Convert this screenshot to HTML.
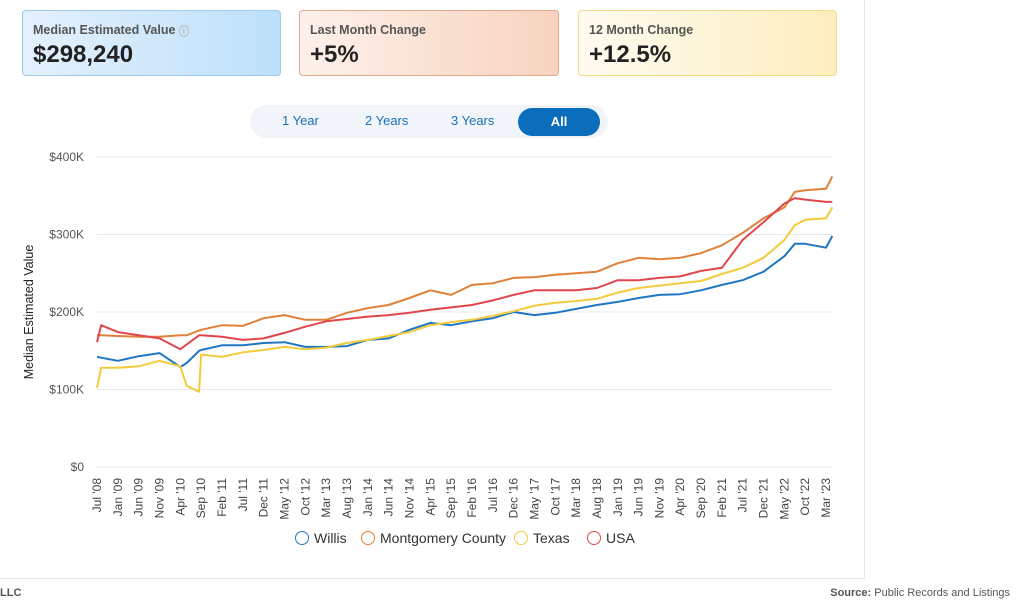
<!DOCTYPE html>
<html><head><meta charset="utf-8"><style>
body{margin:0;width:1024px;height:607px;background:#fff;font-family:"Liberation Sans",sans-serif;position:relative;overflow:hidden}
.card{position:absolute;top:10px;height:66px;border-radius:4px;box-sizing:border-box}
.card .t{position:absolute;left:10px;top:12px;font-size:12.5px;color:#555;font-weight:bold}
.card .v{position:absolute;left:10px;top:30px;font-size:24px;font-weight:bold;color:#222}
.pill{position:absolute;left:250px;top:105px;width:358px;height:33px;border-radius:17px;background:#f1f5f9}
.btn{position:absolute;top:8px;font-size:13px;color:#1a6fb8;cursor:pointer}
</style></head><body>
<div class="card" style="left:22px;width:259px;background:linear-gradient(90deg,#e4f1fd,#bde0fb);border:1px solid #9ccaf0">
<div class="t">Median Estimated Value <span style="font-weight:normal;color:#aaa;border:1px solid #bbb;border-radius:50%;font-size:9px;padding:0 3px">i</span></div>
<div class="v">$298,240</div></div>
<div class="card" style="left:299px;width:260px;background:linear-gradient(90deg,#fdf1eb,#f8d3bf);border:1px solid #e6a987">
<div class="t">Last Month Change</div>
<div class="v">+5%</div></div>
<div class="card" style="left:578px;width:259px;background:linear-gradient(90deg,#fffbf0,#fdeebf);border:1px solid #f2dc8a">
<div class="t">12 Month Change</div>
<div class="v">+12.5%</div></div>
<div class="pill">
<div class="btn" style="left:32px">1 Year</div>
<div class="btn" style="left:115px">2 Years</div>
<div class="btn" style="left:201px">3 Years</div>
<div style="position:absolute;left:268px;top:3px;width:82px;height:28px;border-radius:14px;background:#0a6ebd;color:#fff;font-size:13px;font-weight:bold;text-align:center;line-height:28px">All</div>
</div>
<div style="position:absolute;left:864px;top:0;width:1px;height:579px;background:#e6e6e6"></div>
<div style="position:absolute;left:0;top:578px;width:865px;height:1px;background:#e6e6e6"></div>
<div style="position:absolute;left:0;top:587px;font-size:11px;color:#555;font-weight:bold">LLC</div>
<div style="position:absolute;right:14px;top:587px;font-size:11px;color:#555"><b>Source:</b> Public Records and Listings</div>
<svg id="c" width="1024" height="607" style="position:absolute;left:0;top:0"></svg>
<script>
const xLabels=["Jul '08","Jan '09","Jun '09","Nov '09","Apr '10","Sep '10","Feb '11","Jul '11","Dec '11","May '12","Oct '12","Mar '13","Aug '13","Jan '14","Jun '14","Nov '14","Apr '15","Sep '15","Feb '16","Jul '16","Dec '16","May '17","Oct '17","Mar '18","Aug '18","Jan '19","Jun '19","Nov '19","Apr '20","Sep '20","Feb '21","Jul '21","Dec '21","May '22","Oct '22","Mar '23"];
const yTicks=[0,100,200,300,400];
const pos=[0,0.2,1,2,3,4,4.3,4.9,5,6,7,8,9,10,11,12,13,14,15,16,17,18,19,20,21,22,23,24,25,26,27,28,29,30,31,32,33,33.5,34,35,35.3];
const willis=[142,141,137,143,147,129,134,150,151,157,157,160,161,155,155,156,164,166,177,186,183,188,192,200,196,199,204,209,213,218,222,223,228,235,241,252,272,288,288,283,298];
const montgomery=[170,170,169,168,168,170,170,176,177,183,182,192,196,190,190,199,205,209,218,228,222,235,237,244,245,248,250,252,263,270,268,270,276,286,302,321,335,355,357,359,375];
const texas=[102,128,128,130,137,130,105,97,145,142,148,151,155,152,154,160,164,169,174,183,187,190,195,201,208,212,214,217,225,231,234,237,240,249,257,270,293,312,319,321,335];
const usa=[161,183,174,170,166,152,158,170,170,168,164,166,173,181,188,191,194,196,199,203,206,209,215,222,228,228,228,231,241,241,244,246,253,257,293,316,340,347,345,342,342];
const seriesNames=["Willis","Montgomery County","Texas","USA"];
const colors=["#1f77c4","#e0813a","#f3cb3c","#e0474c"];
const X=i=>97+i*20.83, Y=v=>467-v*0.775;
const svg=document.getElementById('c');const NS='http://www.w3.org/2000/svg';
function mk(t,a,txt){const e=document.createElementNS(NS,t);for(const k in a)e.setAttribute(k,a[k]);if(txt!=null)e.textContent=txt;svg.appendChild(e);return e;}
yTicks.forEach(v=>{
 const g=mk('line',{x1:97,x2:832,y1:Y(v*1000/1000),y2:Y(v),stroke:'#e8e8e8'});
 
 
 const t=mk('text',{x:84,y:Y(v)+4,'text-anchor':'end','font-size':12,fill:'#555'},v===0?'$0':'$'+v+'K');
 
 
});
const yt=mk('text',{x:33,y:312,transform:'rotate(-90 33 312)','text-anchor':'middle','font-size':12.5,fill:'#222'},'Median Estimated Value');


xLabels.forEach((l,i)=>{
 const x=X(i)+4;
 const t=mk('text',{x:x,y:478,transform:`rotate(-90 ${x} 478)`,'text-anchor':'end','font-size':12,fill:'#444'},l);
 
 
});
[willis,montgomery,texas,usa].forEach((s,k)=>{
 const d=s.map((v,i)=>(i?'L':'M')+X(pos[i]).toFixed(1)+' '+Y(v).toFixed(1)).join(' ');
 const p=mk('path',{d:d,fill:'none',stroke:colors[k],'stroke-width':2,'stroke-linejoin':'round'});
 
 
});
const lx=[302,368,521,594];
seriesNames.forEach((n,k)=>{
 const c=mk('circle',{cx:lx[k],cy:538,r:6.5,fill:'none',stroke:colors[k],'stroke-width':1});
 
 
 const t=mk('text',{x:lx[k]+12,y:543,'font-size':14,fill:'#333'},n);
 
 
});
</script>
</body></html>
